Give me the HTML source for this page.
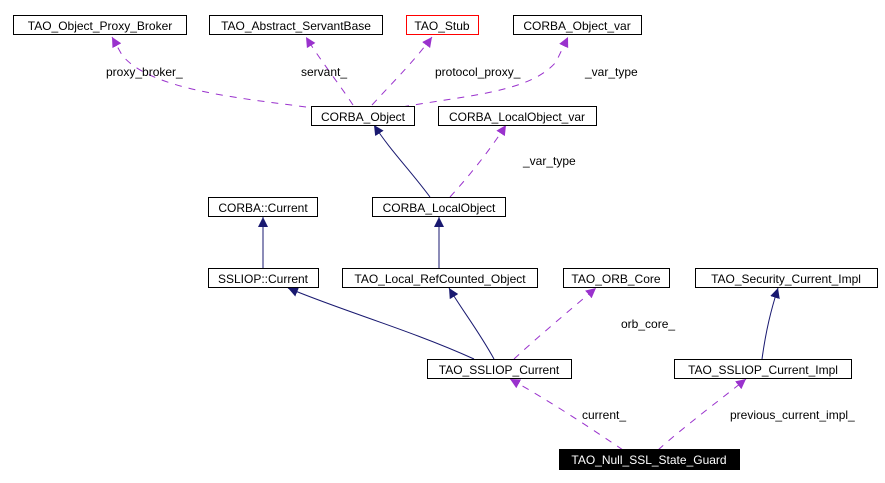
<!DOCTYPE html>
<html><head><style>
body{margin:0;background:#fff;}
svg{display:block;}
text{font-family:"Liberation Sans",sans-serif;font-size:12px;}
</style></head><body>
<svg width="885" height="483" viewBox="0 0 885 483" xmlns="http://www.w3.org/2000/svg">
<defs>
<marker id="p" viewBox="0 0 10 10" refX="10" refY="5" markerWidth="10" markerHeight="10" markerUnits="userSpaceOnUse" orient="auto"><path d="M0,0 L10,5 L0,10 z" fill="#9a32cd"/></marker>
<marker id="n" viewBox="0 0 10 10" refX="10" refY="5" markerWidth="10" markerHeight="10" markerUnits="userSpaceOnUse" orient="auto"><path d="M0,0 L10,5 L0,10 z" fill="#191970"/></marker>
</defs>
<g fill="none" stroke="#9a32cd" stroke-dasharray="7,7" marker-end="url(#p)">
<path d="M306,107 C240,98 150,90 122,55 L112,37"/>
<path d="M353,105 C340,85 320,60 306,37"/>
<path d="M372,105 C395,80 415,60 432,37"/>
<path d="M402,107 C470,95 530,92 556,62 L568,37"/>
<path d="M450,197 C470,175 490,150 506,125"/>
<path d="M514,359 C540,335 570,310 596,288"/>
<path d="M623,450 C586,425 548,400 510,379"/>
<path d="M658,450 C686,425 720,400 746,379"/>
</g>
<g fill="none" stroke="#191970" marker-end="url(#n)">
<path d="M430,197 C410,170 390,150 374,125"/>
<path d="M263,268 L263,217"/>
<path d="M439,268 L439,217"/>
<path d="M474,359 C410,330 340,310 288,288"/>
<path d="M494,359 C478,330 462,310 449,288"/>
<path d="M762,359 C766,330 771,310 778,288"/>
</g>
<g stroke="#000" fill="#fff">
<rect x="13.5" y="15.5" width="173" height="19"/>
<rect x="209.5" y="15.5" width="173" height="19"/>
<rect x="406.5" y="15.5" width="72" height="19" stroke="#f00"/>
<rect x="513.5" y="15.5" width="128" height="19"/>
<rect x="311.5" y="106.5" width="103" height="19"/>
<rect x="438.5" y="106.5" width="158" height="19"/>
<rect x="208.5" y="197.5" width="109" height="19"/>
<rect x="372.5" y="197.5" width="133" height="19"/>
<rect x="208.5" y="268.5" width="110" height="19"/>
<rect x="342.5" y="268.5" width="195" height="19"/>
<rect x="563.5" y="268.5" width="106" height="19"/>
<rect x="695.5" y="268.5" width="182" height="19"/>
<rect x="427.5" y="359.5" width="144" height="19"/>
<rect x="674.5" y="359.5" width="177" height="19"/>
<rect x="559.5" y="449.5" width="180" height="20" fill="#000"/>
</g>
<g fill="#000" text-anchor="middle">
<text x="100" y="30">TAO_Object_Proxy_Broker</text>
<text x="296" y="30">TAO_Abstract_ServantBase</text>
<text x="442" y="30">TAO_Stub</text>
<text x="577" y="30">CORBA_Object_var</text>
<text x="363" y="121">CORBA_Object</text>
<text x="517" y="121">CORBA_LocalObject_var</text>
<text x="263" y="212">CORBA::Current</text>
<text x="439" y="212">CORBA_LocalObject</text>
<text x="263" y="283">SSLIOP::Current</text>
<text x="440" y="283">TAO_Local_RefCounted_Object</text>
<text x="616" y="283">TAO_ORB_Core</text>
<text x="786" y="283">TAO_Security_Current_Impl</text>
<text x="499" y="374">TAO_SSLIOP_Current</text>
<text x="763" y="374">TAO_SSLIOP_Current_Impl</text>
<text x="649" y="464" fill="#fff">TAO_Null_SSL_State_Guard</text>
</g>
<g fill="#000">
<text x="106" y="76">proxy_broker_</text>
<text x="301" y="76">servant_</text>
<text x="435" y="76">protocol_proxy_</text>
<text x="585" y="76">_var_type</text>
<text x="523" y="165">_var_type</text>
<text x="621" y="328">orb_core_</text>
<text x="582" y="419">current_</text>
<text x="730" y="419">previous_current_impl_</text>
</g>
</svg>
</body></html>
